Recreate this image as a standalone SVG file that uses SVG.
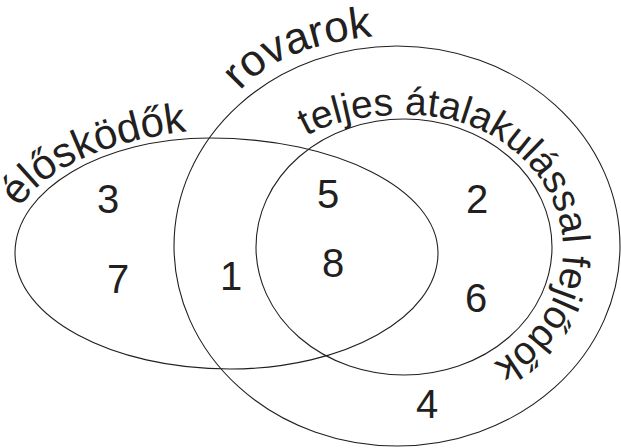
<svg xmlns="http://www.w3.org/2000/svg" width="621" height="448" viewBox="0 0 621 448">
<style>
.set{fill:none;stroke:#231f20;stroke-width:1.1}
.num{font-family:"Liberation Sans",Arial,sans-serif;font-size:40px;fill:#231f20;text-anchor:middle}
.lbl{font-family:"Liberation Sans",Arial,sans-serif;font-size:42px;fill:#231f20}
</style>
<defs>
<path id="pEl" d="M 20,208 C 42,170 110,138 200,130"/>
<path id="pRov" d="M 240,91 C 268,59 315,42 378,36"/>
<path id="pTel" d="M 306,136 C 333,121 370,114 410,115 C 494.5,115 563,175.5 563,250 C 563,324.5 494.5,385 410,385"/>
</defs>
<rect width="621" height="448" fill="#ffffff"/>
<g id="rovarok">
<ellipse class="set" cx="397" cy="246" rx="223" ry="200"/>
<text class="lbl" style="font-size:44px"><textPath href="#pRov">rovarok</textPath></text>
</g>
<g id="eloskodok">
<path class="set" d="M 15,253 C 15,189.5 102.4,138 210,138 C 335.9,138 438,189.5 438,253 C 438,317 344.8,369 230,369 C 111.3,369 15,317 15,253 Z"/>
<text class="lbl"><textPath href="#pEl">élősködők</textPath></text>
</g>
<g id="teljes">
<ellipse class="set" cx="404" cy="247" rx="148" ry="128"/>
<text class="lbl" style="font-size:39px"><textPath href="#pTel">teljes átalakulással fejlődők</textPath></text>
</g>
<g id="numbers">
<text class="num" x="108" y="213">3</text>
<text class="num" x="118" y="293">7</text>
<text class="num" x="231" y="290">1</text>
<text class="num" x="328" y="208">5</text>
<text class="num" x="333" y="277">8</text>
<text class="num" x="477" y="213">2</text>
<text class="num" x="476" y="312">6</text>
<text class="num" x="427" y="418">4</text>
</g>
</svg>
